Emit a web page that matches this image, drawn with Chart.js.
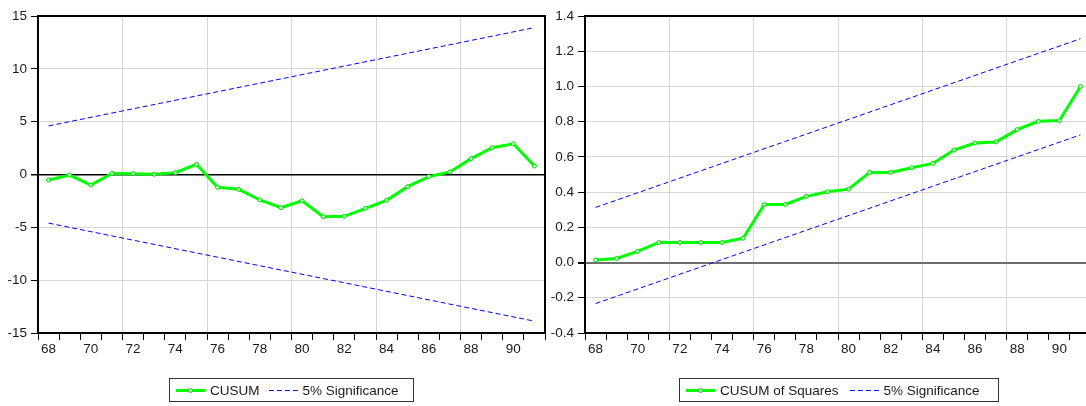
<!DOCTYPE html>
<html>
<head>
<meta charset="utf-8">
<script src="https://cdn.jsdelivr.net/npm/chart.js@4.4.1/dist/chart.umd.min.js"></script>
<style>
  html, body { margin: 0; padding: 0; background: #fff; }
  body { width: 1086px; height: 406px; overflow: hidden; position: relative; font-family: "Liberation Sans", Arial, sans-serif; }
  canvas { position: absolute; top: 0; }
  #cusumChart { left: 0; }
  #squaresChart { left: 540px; }
  .legend {
    position: absolute; top: 378px; height: 24px; border: 1px solid #333;
    display: flex; align-items: center; font-size: 13.5px; color: #1a1a1a; box-sizing: border-box;
  }
  .gline { position: relative; width: 29px; height: 3px; background: #00ff00; margin-left: 6px; margin-right: 5px; }
  .gline span { position: absolute; left: 12px; top: -1px; width: 3px; height: 3px; border: 1px solid #00dd00; border-radius: 50%; background: #ccffcc; }
  .bline { width: 29px; height: 1px; margin-left: 9px; margin-right: 5px;
    background: repeating-linear-gradient(to right, #0000ff 0 5px, transparent 5px 8px); }
</style>
</head>
<body>
<canvas id="cusumChart" width="550" height="406"></canvas>
<canvas id="squaresChart" width="556" height="406"></canvas>

<div class="legend" style="left:169px; width:245px;">
  <div class="gline"><span></span></div><div>CUSUM</div>
  <div class="bline"></div><div>5% Significance</div>
</div>
<div class="legend" style="left:679px; width:320px;">
  <div class="gline"><span></span></div><div>CUSUM of Squares</div>
  <div class="bline" style="margin-left:11px"></div><div>5% Significance</div>
</div>

<script>
const years = ['68', '69', '70', '71', '72', '73', '74', '75', '76', '77', '78', '79',
               '80', '81', '82', '83', '84', '85', '86', '87', '88', '89', '90', '91'];

const cusum = [-0.52, -0.05, -1.0, 0.1, 0.08, 0.02, 0.17, 0.96, -1.21, -1.4, -2.41, -3.14,
               -2.48, -3.99, -3.96, -3.2, -2.44, -1.15, -0.2, 0.24, 1.5, 2.54, 2.91, 0.8];
const cusumBandYears = ['68', '91'];
const cusumUpper = [4.6, 13.9];
const cusumLower = [-4.6, -13.88];

const squares = [0.015, 0.023, 0.063, 0.114, 0.114, 0.114, 0.114, 0.138, 0.33, 0.33, 0.376, 0.402,
                 0.417, 0.512, 0.512, 0.538, 0.563, 0.639, 0.679, 0.685, 0.755, 0.802, 0.806, 1.0];
const squaresBandYears = ['68', '91'];
const squaresUpper = [0.313, 1.271];
const squaresLower = [-0.233, 0.725];

const cusumTicks = { min: -15, max: 15, step: 5 };
const squaresTicks = { min: -0.4, max: 1.4, step: 0.2 };

const tickFont = { family: '"Liberation Sans", Arial, sans-serif', size: 13.5 };

function bandPoints(xs, ys) {
    return xs.map((x, i) => ({ x: x, y: ys[i] }));
}

function isZero(v) {
    return Math.abs(v) < 1e-9;
}

// top and right edges of the plot box
const frame = {
    id: 'frame',
    beforeDatasetsDraw(chart) {
        const a = chart.chartArea;
        const ctx = chart.ctx;
        ctx.save();
        ctx.strokeStyle = '#000';
        ctx.lineWidth = 2;
        ctx.beginPath();
        ctx.moveTo(a.left, a.top);
        ctx.lineTo(a.right, a.top);
        ctx.lineTo(a.right, a.bottom);
        ctx.stroke();
        ctx.restore();
    }
};

function makeChart(id, series, bandYears, upper, lower, yt, axisWidth, padRight, zeroColor, zeroWidth, decimals) {
    const ctx = document.getElementById(id).getContext('2d');
    return new Chart(ctx, {
        type: 'line',
        data: {
            labels: years,
            datasets: [{
                data: series,
                borderColor: '#00ff00',
                borderWidth: 3,
                pointRadius: 2,
                pointBorderWidth: 1,
                pointBorderColor: '#00dd00',
                pointBackgroundColor: '#ccffcc',
                tension: 0,
                order: 0
            }, {
                data: bandPoints(bandYears, upper),
                borderColor: '#0000ff',
                borderWidth: 1,
                borderDash: [5, 3],
                pointRadius: 0,
                order: 1
            }, {
                data: bandPoints(bandYears, lower),
                borderColor: '#0000ff',
                borderWidth: 1,
                borderDash: [5, 3],
                pointRadius: 0,
                order: 1
            }]
        },
        options: {
            responsive: false,
            animation: false,
            events: [],
            layout: { padding: { top: 16, right: padRight, bottom: 46, left: 0 } },
            plugins: { legend: { display: false }, tooltip: { enabled: false } },
            scales: {
                x: {
                    type: 'category',
                    offset: true,
                    afterFit(scale) { scale.height = 27; },
                    grid: {
                        offset: true,
                        tickLength: 7,
                        color: c => (c.index > 0 && c.index < years.length && c.index % 4 === 0) ? '#d6d6d6' : 'rgba(0,0,0,0)',
                        tickColor: '#000',
                        lineWidth: 1
                    },
                    border: { display: true, color: '#000', width: 2 },
                    ticks: {
                        autoSkip: false,
                        maxRotation: 0,
                        padding: 1,
                        color: '#1a1a1a',
                        font: tickFont,
                        callback: function(value, index) {
                            return index % 2 === 0 ? years[index] : '';
                        }
                    }
                },
                y: {
                    type: 'linear',
                    min: yt.min,
                    max: yt.max,
                    afterFit(scale) { scale.width = axisWidth; },
                    grid: {
                        tickLength: 7,
                        color: c => isZero(c.tick.value) ? zeroColor : '#d6d6d6',
                        lineWidth: c => isZero(c.tick.value) ? zeroWidth : 1,
                        tickColor: '#000'
                    },
                    border: { display: true, color: '#000', width: 2 },
                    ticks: {
                        stepSize: yt.step,
                        padding: 4,
                        color: '#1a1a1a',
                        font: tickFont,
                        callback: v => isZero(v) ? (0).toFixed(decimals) : v.toFixed(decimals)
                    }
                }
            }
        },
        plugins: [frame]
    });
}

makeChart('cusumChart', cusum, cusumBandYears, cusumUpper, cusumLower, cusumTicks, 38, 5, '#000', 1.5, 0);
makeChart('squaresChart', squares, squaresBandYears, squaresUpper, squaresLower, squaresTicks, 45, 4, '#6e6e6e', 2, 1);
</script>
</body>
</html>
